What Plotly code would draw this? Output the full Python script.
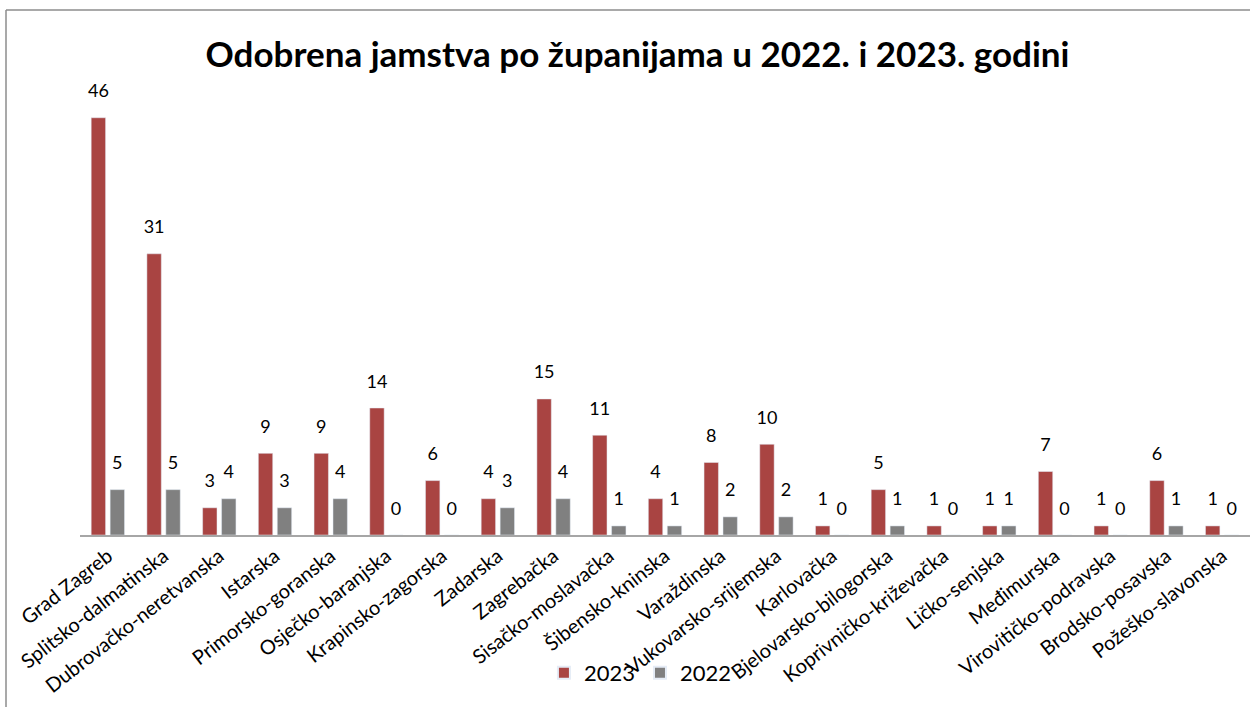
import plotly.graph_objects as go

counties = ["Grad Zagreb", "Splitsko-dalmatinska", "Dubrovačko-neretvanska", "Istarska",
            "Primorsko-goranska", "Osječko-baranjska", "Krapinsko-zagorska", "Zadarska",
            "Zagrebačka", "Sisačko-moslavačka", "Šibensko-kninska", "Varaždinska",
            "Vukovarsko-srijemska", "Karlovačka", "Bjelovarsko-bilogorska",
            "Koprivničko-križevačka", "Ličko-senjska", "Međimurska",
            "Virovitičko-podravska", "Brodsko-posavska", "Požeško-slavonska"]
y2023 = [46, 31, 3, 9, 9, 14, 6, 4, 15, 11, 4, 8, 10, 1, 5, 1, 1, 7, 1, 6, 1]
y2022 = [5, 5, 4, 3, 4, 0, 0, 3, 4, 1, 1, 2, 2, 0, 1, 0, 1, 0, 0, 1, 0]

FONT = "Lato"
GAP = 0.32
fig = go.Figure()
fig.add_trace(go.Bar(name="2023", x=counties, y=y2023, marker_color="#A94442",
                     offsetgroup="a", hoverinfo="x+y"))
fig.add_trace(go.Bar(name="2022", x=counties, y=y2022, marker_color="#808080",
                     offsetgroup="b", hoverinfo="x+y"))
# value labels, placed above each bar via grouped scatter
for name, vals in (("2023", y2023), ("2022", y2022)):
    fig.add_trace(go.Scatter(x=counties, y=vals, text=vals, mode="markers+text",
                             offsetgroup="a" if name == "2023" else "b",
                             textposition="top center", cliponaxis=False,
                             marker=dict(size=24, opacity=0), showlegend=False,
                             hoverinfo="skip",
                             textfont=dict(size=18, color="#000000", family=FONT)))

fig.update_layout(
    width=1250, height=707,
    margin=dict(l=80, r=0, t=90, b=172),
    paper_bgcolor="white", plot_bgcolor="white",
    barmode="group", bargap=GAP, bargroupgap=0.24,
    scattermode="group", scattergap=GAP,
    font=dict(family=FONT, color="#000000"),
    title=dict(text="<b>Odobrena jamstva po županijama u 2022. i 2023. godini</b>",
               x=0.51, xref="container", xanchor="center",
               y=1 - 55 / 707, yref="container", yanchor="middle",
               font=dict(size=35, family=FONT, color="#000000")),
    legend=dict(orientation="h", x=0.479, xanchor="center", y=-0.31, yanchor="middle",
                font=dict(size=22, family=FONT), bgcolor="rgba(0,0,0,0)",
                itemsizing="constant"),
    xaxis=dict(tickangle=-38, tickfont=dict(size=20, family=FONT),
               showline=True, linecolor="#a6a6a6", linewidth=1.5,
               showgrid=False, ticks="", automargin=False),
    yaxis=dict(range=[0, 49.06], visible=False, showgrid=False, automargin=False),
    shapes=[
        dict(type="line", xref="paper", yref="paper",
             x0=(6 - 80) / 1170, x1=1.01, y0=(535 - 10) / 445, y1=(535 - 10) / 445,
             line=dict(color="#8c8c8c", width=1.5)),
        dict(type="line", xref="paper", yref="paper",
             x0=(6 - 80) / 1170, x1=(6 - 80) / 1170, y0=(535 - 10) / 445, y1=-0.5,
             line=dict(color="#8c8c8c", width=1.5)),
    ],
)
fig.write_html("out.html", config={"displayModeBar": False},
               post_script="document.body.style.margin='0';document.body.style.overflow='hidden';")
